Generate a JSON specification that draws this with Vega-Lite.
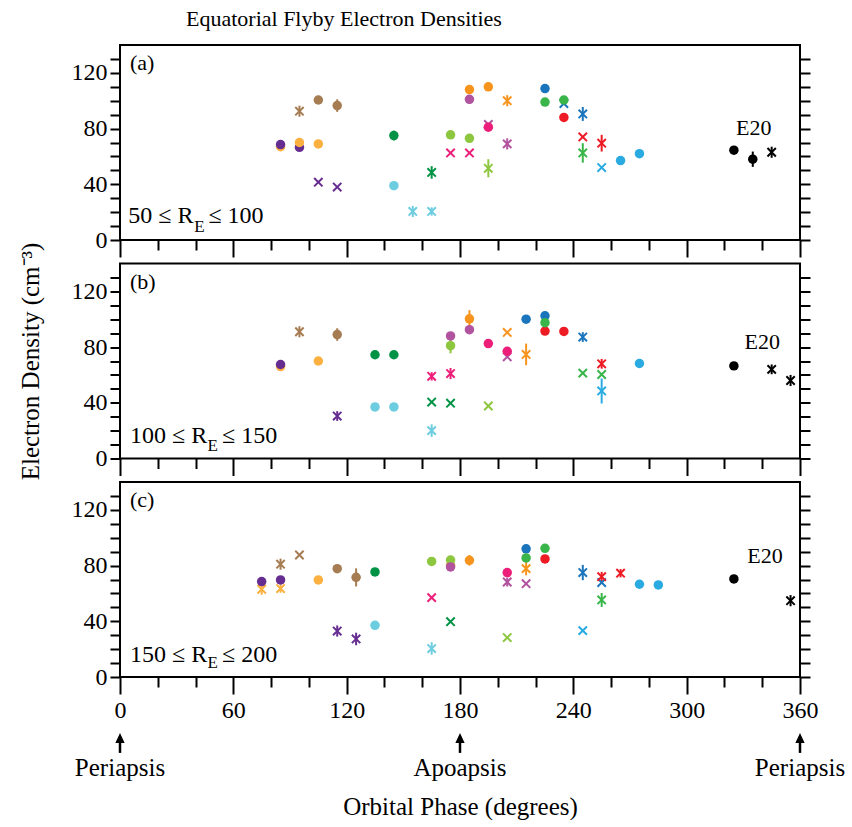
{
"$schema":"https://vega.github.io/schema/vega-lite/v6.json",
"background":"white",
"padding":{"left":16,"top":7,"right":0,"bottom":0},
"config":{"font":"Liberation Serif","view":{"stroke":"black","strokeWidth":2}},
"bounds":"flush",
"spacing":23.5,
"datasets":{"pts":[
{"p":"a","x":85,"y":67,"m":"o","c":"lorange"},
{"p":"a","x":85,"y":68.5,"m":"o","c":"purple"},
{"p":"a","x":95,"y":66.5,"m":"o","c":"purple"},
{"p":"a","x":95,"y":70,"m":"o","c":"lorange"},
{"p":"a","x":105,"y":100.5,"m":"o","c":"brown"},
{"p":"a","x":105,"y":69,"m":"o","c":"lorange"},
{"p":"a","x":115,"y":96.5,"m":"o","c":"brown","lo":92,"hi":101},
{"p":"a","x":145,"y":75,"m":"o","c":"dgreen","lo":71.5,"hi":78.5},
{"p":"a","x":145,"y":39,"m":"o","c":"cyan"},
{"p":"a","x":175,"y":75.5,"m":"o","c":"lgreen"},
{"p":"a","x":185,"y":108,"m":"o","c":"orange"},
{"p":"a","x":185,"y":101,"m":"o","c":"magenta","lo":98,"hi":104},
{"p":"a","x":185,"y":73,"m":"o","c":"lgreen"},
{"p":"a","x":195,"y":110,"m":"o","c":"orange"},
{"p":"a","x":195,"y":81,"m":"o","c":"pink"},
{"p":"a","x":225,"y":108.7,"m":"o","c":"blue"},
{"p":"a","x":225,"y":99,"m":"o","c":"green"},
{"p":"a","x":235,"y":100.5,"m":"o","c":"green"},
{"p":"a","x":235,"y":88,"m":"o","c":"red","lo":85,"hi":91},
{"p":"a","x":265,"y":57,"m":"o","c":"lblue"},
{"p":"a","x":275,"y":62,"m":"o","c":"lblue"},
{"p":"a","x":325,"y":64.5,"m":"o","c":"black"},
{"p":"a","x":335,"y":58,"m":"o","c":"black","lo":52.5,"hi":63.5},
{"p":"a","x":95,"y":92.5,"m":"x","c":"brown","lo":88.5,"hi":96.5},
{"p":"a","x":105,"y":41.5,"m":"x","c":"purple"},
{"p":"a","x":115,"y":38,"m":"x","c":"purple"},
{"p":"a","x":155,"y":20.5,"m":"x","c":"cyan","lo":16.5,"hi":24.5},
{"p":"a","x":165,"y":48.5,"m":"x","c":"dgreen","lo":44,"hi":53},
{"p":"a","x":165,"y":20.5,"m":"x","c":"cyan","lo":17.5,"hi":23.5},
{"p":"a","x":175,"y":62.5,"m":"x","c":"pink"},
{"p":"a","x":185,"y":62.5,"m":"x","c":"pink"},
{"p":"a","x":195,"y":83,"m":"x","c":"magenta"},
{"p":"a","x":195,"y":51.5,"m":"x","c":"lgreen","lo":45,"hi":58},
{"p":"a","x":205,"y":100,"m":"x","c":"orange","lo":96,"hi":104},
{"p":"a","x":205,"y":69,"m":"x","c":"magenta","lo":65,"hi":73},
{"p":"a","x":235,"y":98,"m":"x","c":"blue"},
{"p":"a","x":245,"y":90.5,"m":"x","c":"blue","lo":85.5,"hi":95.5},
{"p":"a","x":245,"y":74,"m":"x","c":"red"},
{"p":"a","x":245,"y":62.5,"m":"x","c":"green","lo":55.5,"hi":69.5},
{"p":"a","x":255,"y":69.5,"m":"x","c":"red","lo":63.5,"hi":75.5},
{"p":"a","x":255,"y":52,"m":"x","c":"lblue"},
{"p":"a","x":345,"y":63,"m":"x","c":"black","lo":59,"hi":67},
{"p":"b","x":85,"y":66,"m":"o","c":"lorange"},
{"p":"b","x":85,"y":67.5,"m":"o","c":"purple"},
{"p":"b","x":105,"y":70,"m":"o","c":"lorange"},
{"p":"b","x":115,"y":89,"m":"o","c":"brown","lo":84.5,"hi":93.5},
{"p":"b","x":135,"y":74.5,"m":"o","c":"dgreen"},
{"p":"b","x":145,"y":74.5,"m":"o","c":"dgreen"},
{"p":"b","x":135,"y":37,"m":"o","c":"cyan"},
{"p":"b","x":145,"y":37,"m":"o","c":"cyan"},
{"p":"b","x":175,"y":88,"m":"o","c":"magenta"},
{"p":"b","x":175,"y":81,"m":"o","c":"lgreen","lo":75.5,"hi":86.5},
{"p":"b","x":185,"y":100.3,"m":"o","c":"orange","lo":94,"hi":106.5},
{"p":"b","x":185,"y":92.5,"m":"o","c":"magenta"},
{"p":"b","x":195,"y":82.5,"m":"o","c":"pink"},
{"p":"b","x":205,"y":77,"m":"o","c":"pink"},
{"p":"b","x":215,"y":100,"m":"o","c":"blue"},
{"p":"b","x":225,"y":102.5,"m":"o","c":"blue"},
{"p":"b","x":225,"y":91.5,"m":"o","c":"red"},
{"p":"b","x":225,"y":97.5,"m":"o","c":"green"},
{"p":"b","x":235,"y":91.2,"m":"o","c":"red"},
{"p":"b","x":275,"y":68.2,"m":"o","c":"lblue"},
{"p":"b","x":325,"y":66.5,"m":"o","c":"black"},
{"p":"b","x":95,"y":91,"m":"x","c":"brown","lo":87,"hi":95},
{"p":"b","x":115,"y":30.5,"m":"x","c":"purple","lo":27,"hi":34},
{"p":"b","x":165,"y":59,"m":"x","c":"pink","lo":56,"hi":62},
{"p":"b","x":165,"y":40.5,"m":"x","c":"dgreen"},
{"p":"b","x":165,"y":20,"m":"x","c":"cyan","lo":15.5,"hi":24.5},
{"p":"b","x":175,"y":61,"m":"x","c":"pink","lo":57,"hi":65},
{"p":"b","x":175,"y":39.7,"m":"x","c":"dgreen"},
{"p":"b","x":195,"y":37.7,"m":"x","c":"lgreen"},
{"p":"b","x":205,"y":90.5,"m":"x","c":"orange"},
{"p":"b","x":205,"y":73,"m":"x","c":"magenta"},
{"p":"b","x":215,"y":74.7,"m":"x","c":"orange","lo":67,"hi":82.5},
{"p":"b","x":245,"y":87.2,"m":"x","c":"blue","lo":83.7,"hi":90.7},
{"p":"b","x":245,"y":61.3,"m":"x","c":"green"},
{"p":"b","x":255,"y":68,"m":"x","c":"red","lo":64.5,"hi":71.5},
{"p":"b","x":255,"y":60.3,"m":"x","c":"green"},
{"p":"b","x":255,"y":48.5,"m":"x","c":"lblue","lo":39.5,"hi":57.5},
{"p":"b","x":345,"y":64,"m":"x","c":"black","lo":60.5,"hi":67.5},
{"p":"b","x":355,"y":56,"m":"x","c":"black","lo":52,"hi":60},
{"p":"c","x":75,"y":68.5,"m":"o","c":"purple"},
{"p":"c","x":85,"y":69.7,"m":"o","c":"purple"},
{"p":"c","x":105,"y":69.7,"m":"o","c":"lorange"},
{"p":"c","x":115,"y":77.8,"m":"o","c":"brown"},
{"p":"c","x":125,"y":71.6,"m":"o","c":"brown","lo":65,"hi":78},
{"p":"c","x":135,"y":75.4,"m":"o","c":"dgreen"},
{"p":"c","x":135,"y":37.1,"m":"o","c":"cyan"},
{"p":"c","x":165,"y":83,"m":"o","c":"lgreen"},
{"p":"c","x":175,"y":80,"m":"o","c":"orange"},
{"p":"c","x":175,"y":84,"m":"o","c":"lgreen"},
{"p":"c","x":175,"y":79,"m":"o","c":"magenta","lo":76,"hi":82},
{"p":"c","x":185,"y":83.8,"m":"o","c":"orange","lo":80,"hi":87.5},
{"p":"c","x":205,"y":75,"m":"o","c":"pink"},
{"p":"c","x":215,"y":92,"m":"o","c":"blue"},
{"p":"c","x":215,"y":85.5,"m":"o","c":"green"},
{"p":"c","x":225,"y":92.4,"m":"o","c":"green"},
{"p":"c","x":225,"y":84.8,"m":"o","c":"red"},
{"p":"c","x":275,"y":66.6,"m":"o","c":"lblue"},
{"p":"c","x":285,"y":66.1,"m":"o","c":"lblue"},
{"p":"c","x":325,"y":70.4,"m":"o","c":"black"},
{"p":"c","x":75,"y":63,"m":"x","c":"lorange","lo":59,"hi":67},
{"p":"c","x":85,"y":81,"m":"x","c":"brown","lo":77,"hi":85},
{"p":"c","x":85,"y":63.5,"m":"x","c":"lorange","lo":60.5,"hi":66.5},
{"p":"c","x":95,"y":87.6,"m":"x","c":"brown"},
{"p":"c","x":115,"y":33,"m":"x","c":"purple","lo":29,"hi":37},
{"p":"c","x":125,"y":27.3,"m":"x","c":"purple","lo":22.8,"hi":31.8},
{"p":"c","x":165,"y":57,"m":"x","c":"pink"},
{"p":"c","x":165,"y":20.4,"m":"x","c":"cyan","lo":16,"hi":25},
{"p":"c","x":175,"y":39.7,"m":"x","c":"dgreen"},
{"p":"c","x":205,"y":68.2,"m":"x","c":"magenta","lo":65,"hi":71.4},
{"p":"c","x":205,"y":28.3,"m":"x","c":"lgreen"},
{"p":"c","x":215,"y":77.8,"m":"x","c":"orange","lo":73,"hi":82.5},
{"p":"c","x":215,"y":67,"m":"x","c":"magenta"},
{"p":"c","x":245,"y":75,"m":"x","c":"blue","lo":69.5,"hi":80.5},
{"p":"c","x":245,"y":33.3,"m":"x","c":"lblue"},
{"p":"c","x":255,"y":67.8,"m":"x","c":"blue"},
{"p":"c","x":255,"y":72,"m":"x","c":"red","lo":68.5,"hi":75.5},
{"p":"c","x":255,"y":55.3,"m":"x","c":"green","lo":50.3,"hi":60.3},
{"p":"c","x":265,"y":74.5,"m":"x","c":"red","lo":71.5,"hi":77.5},
{"p":"c","x":355,"y":54.8,"m":"x","c":"black","lo":50.8,"hi":58.8}
]},
"vconcat":[
{
"width":680,"height":195,
"title":{"text":"Equatorial Flyby Electron Densities","anchor":"start","frame":"group","dx":66,"fontSize":22,"fontWeight":"normal","offset":14,"color":"black"},
"layer":[
{"data":{"name":"pts"},"transform":[{"filter":"datum.p === 'a' && isValid(datum.lo)"}],"mark":{"type":"rule","strokeWidth":2},
"encoding":{
"x":{"field":"x","type":"quantitative","scale":{"domain":[0,360],"nice":false,"zero":false},"axis":{"values":[0,20,40,60,80,100,120,140,160,180,200,220,240,260,280,300,320,340,360],"labels":false,"tickSize":{"condition":{"test":"datum.value % 60 === 0","value":17},"value":10},"tickWidth":2,"tickColor":"black","domain":false,"grid":false,"title":null}},
"y":{"field":"lo","type":"quantitative","scale":{"domain":[0,140],"nice":false},"axis":{"orient":"left","values":[0,10,20,30,40,50,60,70,80,90,100,110,120,130],"labelExpr":"datum.value % 40 === 0 ? datum.label : ''","tickSize":10,"tickWidth":2,"tickColor":"black","labelPadding":3,"labelFontSize":24,"labelColor":"black","domain":false,"grid":false,"title":null,"labelOverlap":false}},"y2":{"field":"hi"},
"color":{"field":"c","type":"nominal","legend":null,"scale":{"domain":["purple","brown","lorange","dgreen","cyan","lgreen","pink","orange","magenta","blue","green","red","lblue","black"],"range":["#662d91","#a67c52","#fbb040","#009245","#6dcde0","#8dc63f","#ed1e79","#f7941d","#b1539f","#1b75bc","#39b54a","#ed1c24","#29abe2","#000000"]}}}},
{"data":{"name":"pts"},"transform":[{"filter":"datum.p === 'a' && datum.m === 'x'"}],"mark":{"type":"point","shape":"M-1,-1L1,1M-1,1L1,-1","filled":false,"strokeWidth":2,"size":70,"opacity":1},
"encoding":{"x":{"field":"x","type":"quantitative","axis":null},"y":{"field":"y","type":"quantitative","axis":{"orient":"right","values":[0,10,20,30,40,50,60,70,80,90,100,110,120,130],"labels":false,"tickSize":10,"tickWidth":2,"tickColor":"black","domain":false,"grid":false,"title":null}},
"color":{"field":"c","type":"nominal","legend":null}}},
{"data":{"name":"pts"},"transform":[{"filter":"datum.p === 'a' && datum.m === 'o'"}],"mark":{"type":"circle","size":90,"opacity":1},
"encoding":{"x":{"field":"x","type":"quantitative","axis":null},"y":{"field":"y","type":"quantitative","axis":null},"color":{"field":"c","type":"nominal","legend":null}}},
{"data":{"values":[{}]},"mark":{"type":"text","text":"(a)","fontSize":22,"align":"left","baseline":"alphabetic","color":"black"},"encoding":{"x":{"datum":5.3,"type":"quantitative","axis":null},"y":{"datum":121.7,"type":"quantitative","axis":null}}},
{"data":{"values":[{}]},"mark":{"type":"text","text":"50 ≤ R","fontSize":24,"align":"left","baseline":"alphabetic","color":"black"},"encoding":{"x":{"datum":4.4,"type":"quantitative","axis":null},"y":{"datum":12,"type":"quantitative","axis":null}}},
{"data":{"values":[{}]},"mark":{"type":"text","text":"E","fontSize":17,"align":"left","baseline":"alphabetic","color":"black"},"encoding":{"x":{"datum":39.3,"type":"quantitative","axis":null},"y":{"datum":6,"type":"quantitative","axis":null}}},
{"data":{"values":[{}]},"mark":{"type":"text","text":"≤ 100","fontSize":24,"align":"left","baseline":"alphabetic","color":"black"},"encoding":{"x":{"datum":46.8,"type":"quantitative","axis":null},"y":{"datum":12,"type":"quantitative","axis":null}}},
{"data":{"values":[{}]},"mark":{"type":"text","text":"E20","fontSize":22,"align":"center","baseline":"alphabetic","color":"black"},"encoding":{"x":{"datum":335.5,"type":"quantitative","axis":null},"y":{"datum":75.4,"type":"quantitative","axis":null}}}
],
"resolve":{"axis":{"x":"independent","y":"independent"}}
},
{
"width":680,"height":195,
"layer":[
{"data":{"name":"pts"},"transform":[{"filter":"datum.p === 'b' && isValid(datum.lo)"}],"mark":{"type":"rule","strokeWidth":2},
"encoding":{
"x":{"field":"x","type":"quantitative","scale":{"domain":[0,360],"nice":false,"zero":false},"axis":{"values":[0,20,40,60,80,100,120,140,160,180,200,220,240,260,280,300,320,340,360],"labels":false,"tickSize":{"condition":{"test":"datum.value % 60 === 0","value":17},"value":10},"tickWidth":2,"tickColor":"black","domain":false,"grid":false,"title":null}},
"y":{"field":"lo","type":"quantitative","scale":{"domain":[0,140],"nice":false},"axis":{"orient":"left","values":[0,10,20,30,40,50,60,70,80,90,100,110,120,130],"labelExpr":"datum.value % 40 === 0 ? datum.label : ''","tickSize":10,"tickWidth":2,"tickColor":"black","labelPadding":3,"labelFontSize":24,"labelColor":"black","domain":false,"grid":false,"title":"Electron Density (cm⁻³)","titleFontSize":25,"titleFontWeight":"normal","titleColor":"black","titlePadding":28,"labelOverlap":false}},"y2":{"field":"hi"},
"color":{"field":"c","type":"nominal","legend":null}}},
{"data":{"name":"pts"},"transform":[{"filter":"datum.p === 'b' && datum.m === 'x'"}],"mark":{"type":"point","shape":"M-1,-1L1,1M-1,1L1,-1","filled":false,"strokeWidth":2,"size":70,"opacity":1},
"encoding":{"x":{"field":"x","type":"quantitative","axis":null},"y":{"field":"y","type":"quantitative","axis":{"orient":"right","values":[0,10,20,30,40,50,60,70,80,90,100,110,120,130],"labels":false,"tickSize":10,"tickWidth":2,"tickColor":"black","domain":false,"grid":false,"title":null}},
"color":{"field":"c","type":"nominal","legend":null}}},
{"data":{"name":"pts"},"transform":[{"filter":"datum.p === 'b' && datum.m === 'o'"}],"mark":{"type":"circle","size":90,"opacity":1},
"encoding":{"x":{"field":"x","type":"quantitative","axis":null},"y":{"field":"y","type":"quantitative","axis":null},"color":{"field":"c","type":"nominal","legend":null}}},
{"data":{"values":[{}]},"mark":{"type":"text","text":"(b)","fontSize":22,"align":"left","baseline":"alphabetic","color":"black"},"encoding":{"x":{"datum":5.3,"type":"quantitative","axis":null},"y":{"datum":121.4,"type":"quantitative","axis":null}}},
{"data":{"values":[{}]},"mark":{"type":"text","text":"100 ≤ R","fontSize":24,"align":"left","baseline":"alphabetic","color":"black"},"encoding":{"x":{"datum":5.3,"type":"quantitative","axis":null},"y":{"datum":11,"type":"quantitative","axis":null}}},
{"data":{"values":[{}]},"mark":{"type":"text","text":"E","fontSize":17,"align":"left","baseline":"alphabetic","color":"black"},"encoding":{"x":{"datum":46.3,"type":"quantitative","axis":null},"y":{"datum":5.7,"type":"quantitative","axis":null}}},
{"data":{"values":[{}]},"mark":{"type":"text","text":"≤ 150","fontSize":24,"align":"left","baseline":"alphabetic","color":"black"},"encoding":{"x":{"datum":54,"type":"quantitative","axis":null},"y":{"datum":11,"type":"quantitative","axis":null}}},
{"data":{"values":[{}]},"mark":{"type":"text","text":"E20","fontSize":22,"align":"center","baseline":"alphabetic","color":"black"},"encoding":{"x":{"datum":340,"type":"quantitative","axis":null},"y":{"datum":78.8,"type":"quantitative","axis":null}}}
],
"resolve":{"axis":{"x":"independent","y":"independent"}}
},
{
"width":680,"height":195,
"layer":[
{"data":{"name":"pts"},"transform":[{"filter":"datum.p === 'c' && isValid(datum.lo)"}],"mark":{"type":"rule","strokeWidth":2},
"encoding":{
"x":{"field":"x","type":"quantitative","scale":{"domain":[0,360],"nice":false,"zero":false},"axis":{"values":[0,20,40,60,80,100,120,140,160,180,200,220,240,260,280,300,320,340,360],"labelExpr":"datum.value % 60 === 0 ? datum.label : ''","labelFlush":false,"labelOverlap":false,"labelFontSize":24,"labelColor":"black","labelPadding":4,"tickSize":{"condition":{"test":"datum.value % 60 === 0","value":17},"value":10},"tickWidth":2,"tickColor":"black","domain":false,"grid":false,"title":"Orbital Phase (degrees)","titleFontSize":25,"titleFontWeight":"normal","titleColor":"black","titlePadding":72}},
"y":{"field":"lo","type":"quantitative","scale":{"domain":[0,140],"nice":false},"axis":{"orient":"left","values":[0,10,20,30,40,50,60,70,80,90,100,110,120,130],"labelExpr":"datum.value % 40 === 0 ? datum.label : ''","tickSize":10,"tickWidth":2,"tickColor":"black","labelPadding":3,"labelFontSize":24,"labelColor":"black","domain":false,"grid":false,"title":null,"labelOverlap":false}},"y2":{"field":"hi"},
"color":{"field":"c","type":"nominal","legend":null}}},
{"data":{"name":"pts"},"transform":[{"filter":"datum.p === 'c' && datum.m === 'x'"}],"mark":{"type":"point","shape":"M-1,-1L1,1M-1,1L1,-1","filled":false,"strokeWidth":2,"size":70,"opacity":1},
"encoding":{"x":{"field":"x","type":"quantitative","axis":null},"y":{"field":"y","type":"quantitative","axis":{"orient":"right","values":[0,10,20,30,40,50,60,70,80,90,100,110,120,130],"labels":false,"tickSize":10,"tickWidth":2,"tickColor":"black","domain":false,"grid":false,"title":null}},
"color":{"field":"c","type":"nominal","legend":null}}},
{"data":{"name":"pts"},"transform":[{"filter":"datum.p === 'c' && datum.m === 'o'"}],"mark":{"type":"circle","size":90,"opacity":1},
"encoding":{"x":{"field":"x","type":"quantitative","axis":null},"y":{"field":"y","type":"quantitative","axis":null},"color":{"field":"c","type":"nominal","legend":null}}},
{"data":{"values":[{}]},"mark":{"type":"text","text":"(c)","fontSize":22,"align":"left","baseline":"alphabetic","color":"black"},"encoding":{"x":{"datum":5.3,"type":"quantitative","axis":null},"y":{"datum":121.9,"type":"quantitative","axis":null}}},
{"data":{"values":[{}]},"mark":{"type":"text","text":"150 ≤ R","fontSize":24,"align":"left","baseline":"alphabetic","color":"black"},"encoding":{"x":{"datum":5.3,"type":"quantitative","axis":null},"y":{"datum":11,"type":"quantitative","axis":null}}},
{"data":{"values":[{}]},"mark":{"type":"text","text":"E","fontSize":17,"align":"left","baseline":"alphabetic","color":"black"},"encoding":{"x":{"datum":46.3,"type":"quantitative","axis":null},"y":{"datum":6.2,"type":"quantitative","axis":null}}},
{"data":{"values":[{}]},"mark":{"type":"text","text":"≤ 200","fontSize":24,"align":"left","baseline":"alphabetic","color":"black"},"encoding":{"x":{"datum":54,"type":"quantitative","axis":null},"y":{"datum":11,"type":"quantitative","axis":null}}},
{"data":{"values":[{}]},"mark":{"type":"text","text":"E20","fontSize":22,"align":"center","baseline":"alphabetic","color":"black"},"encoding":{"x":{"datum":341.5,"type":"quantitative","axis":null},"y":{"datum":81.7,"type":"quantitative","axis":null}}},
{"data":{"values":[{"x":0,"t":"Periapsis"},{"x":180,"t":"Apoapsis"},{"x":360,"t":"Periapsis"}]},
"layer":[
{"mark":{"type":"rule","strokeWidth":2.5,"color":"black"},"encoding":{"x":{"field":"x","type":"quantitative","axis":null},"y":{"datum":-46,"type":"quantitative","axis":null},"y2":{"datum":-54.5}}},
{"mark":{"type":"point","shape":"M0,-1L0.6,0.3L-0.6,0.3Z","filled":true,"size":240,"opacity":1,"color":"black","strokeWidth":0},"encoding":{"x":{"field":"x","type":"quantitative","axis":null},"y":{"datum":-45.8,"type":"quantitative","axis":null}}},
{"mark":{"type":"text","fontSize":25,"align":"center","baseline":"alphabetic","color":"black"},"encoding":{"x":{"field":"x","type":"quantitative","axis":null},"text":{"field":"t","type":"nominal"},"y":{"datum":-71.1,"type":"quantitative","axis":null}}}
]}
],
"resolve":{"axis":{"x":"independent","y":"independent"}}
}
]
}
